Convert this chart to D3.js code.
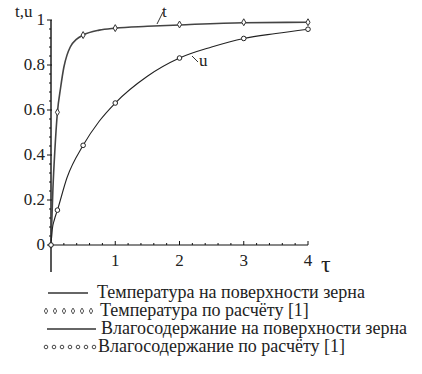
<!DOCTYPE html>
<html>
<head>
<meta charset="utf-8">
<script src="https://cdn.jsdelivr.net/npm/d3@7"></script>
<style>
  body { margin: 0; background: #fff; }
</style>
</head>
<body>
<svg id="chart" width="422" height="374"></svg>
<script>
// temperature curve (continuous line)
var tauLine  = [0, 0.03, 0.06, 0.1, 0.15, 0.2, 0.25, 0.3, 0.4, 0.5, 0.75, 1, 1.5, 2, 3, 4];
var tLine    = [0, 0.25, 0.42, 0.59, 0.7, 0.79, 0.845, 0.88, 0.915, 0.933, 0.955, 0.964, 0.972, 0.978, 0.988, 0.99];
// moisture curve (continuous line)
var tauLineU = [0, 0.02, 0.05, 0.1, 0.25, 0.5, 0.75, 1, 1.5, 2, 2.5, 3, 3.5, 4];
var uLine    = [0, 0.07, 0.11, 0.155, 0.3, 0.443, 0.55, 0.631, 0.75, 0.831, 0.88, 0.918, 0.94, 0.959];
// calculated points [1]
var tauPts = [0, 0.1, 0.5, 1, 2, 3, 4];
var tPts   = [0, 0.59, 0.933, 0.964, 0.98, 0.99, 0.99];
var uPts   = [0, 0.155, 0.443, 0.631, 0.831, 0.918, 0.959];

var yTicks = [0, 0.2, 0.4, 0.6, 0.8, 1];
var xTicks = [1, 2, 3, 4];
var legendLabels = [
  "Температура на поверхности зерна",
  "Температура по расчёту [1]",
  "Влагосодержание на поверхности зерна",
  "Влагосодержание по расчёту [1]"
];

var FONT = "'Liberation Serif'";
var svg = d3.select("#chart");
var x = d3.scaleLinear().domain([0, 4]).range([51, 308]);
var y = d3.scaleLinear().domain([0, 1]).range([245, 20]);

function label(sel, size) {
  return sel.style("font-family", FONT).attr("font-size", size).attr("fill", "#222");
}

// axes
svg.append("line").attr("x1", x(0)).attr("x2", x(4)).attr("y1", y(0)).attr("y2", y(0))
  .attr("stroke", "#111").attr("stroke-width", 1.2);
svg.append("line").attr("x1", x(0)).attr("x2", x(0)).attr("y1", y(-0.12)).attr("y2", y(1))
  .attr("stroke", "#111").attr("stroke-width", 1.4);

// y ticks
d3.range(0, 1.001, 0.04).forEach(function(v) {
  var major = Math.abs(v * 5 - Math.round(v * 5)) < 1e-6;
  svg.append("line").attr("x1", x(0) - (major ? 4 : 2)).attr("x2", x(0) + (major ? 1 : 0))
    .attr("y1", y(v)).attr("y2", y(v)).attr("stroke", "#111").attr("stroke-width", 1);
});
label(svg.selectAll(".ylab").data(yTicks).enter().append("text"), "17px")
  .attr("x", x(0) - 6).attr("y", function(d) { return y(d) + 5; })
  .attr("text-anchor", "end")
  .text(function(d) { return d; });

// x ticks
d3.range(0.2, 4.001, 0.2).forEach(function(v) {
  var major = Math.abs(v - Math.round(v)) < 1e-6;
  svg.append("line").attr("x1", x(v)).attr("x2", x(v))
    .attr("y1", y(0)).attr("y2", y(0) - (major ? 4 : 2)).attr("stroke", "#111").attr("stroke-width", 1);
});
label(svg.selectAll(".xlab").data(xTicks).enter().append("text"), "17px")
  .attr("x", function(d) { return x(d); }).attr("y", y(0) + 21)
  .attr("text-anchor", "middle")
  .text(function(d) { return d; });

label(svg.append("text"), "17px").attr("x", 15).attr("y", 17).text("t,u");
label(svg.append("text"), "24px").attr("x", 321).attr("y", 272).text("τ");

// curves
var line = d3.line().x(function(d) { return x(d[0]); }).y(function(d) { return y(d[1]); })
  .curve(d3.curveMonotoneX);
svg.append("path").datum(d3.zip(tauLine, tLine)).attr("d", line)
  .attr("fill", "none").attr("stroke", "#444").attr("stroke-width", 1.6);
svg.append("path").datum(d3.zip(tauLineU, uLine)).attr("d", line)
  .attr("fill", "none").attr("stroke", "#222").attr("stroke-width", 1.1);

var diamond = d3.symbol().type(d3.symbolDiamond).size(14);
svg.selectAll(".tpt").data(d3.zip(tauPts, tPts)).enter().append("path")
  .attr("d", diamond)
  .attr("transform", function(d) { return "translate(" + x(d[0]) + "," + y(d[1]) + ")"; })
  .attr("fill", "#fff").attr("stroke", "#333").attr("stroke-width", 1);
svg.selectAll(".upt").data(d3.zip(tauPts, uPts)).enter().append("circle")
  .attr("cx", function(d) { return x(d[0]); }).attr("cy", function(d) { return y(d[1]); })
  .attr("r", 2.3).attr("fill", "#fff").attr("stroke", "#222").attr("stroke-width", 1);

// curve labels
svg.append("line").attr("x1", 157).attr("y1", 24).attr("x2", 163).attr("y2", 12).attr("stroke", "#333");
label(svg.append("text"), "17px").attr("x", 162).attr("y", 17).text("t");
svg.append("line").attr("x1", 192).attr("y1", 56).attr("x2", 198).attr("y2", 62).attr("stroke", "#333");
label(svg.append("text"), "17px").attr("x", 199).attr("y", 66).text("u");

// legend
var rowsY = [293, 311, 329, 347];
var lg = svg.append("g");
lg.append("line").attr("x1", 48).attr("x2", 88).attr("y1", rowsY[0]).attr("y2", rowsY[0]).attr("stroke", "#333").attr("stroke-width", 1.3);
lg.append("line").attr("x1", 47).attr("x2", 96).attr("y1", rowsY[2]).attr("y2", rowsY[2]).attr("stroke", "#333").attr("stroke-width", 1.3);
lg.selectAll(".ld").data(d3.range(6)).enter().append("path")
  .attr("d", d3.symbol().type(d3.symbolDiamond).size(10))
  .attr("transform", function(i) { return "translate(" + (46 + i * 9) + "," + rowsY[1] + ")"; })
  .attr("fill", "#fff").attr("stroke", "#444").attr("stroke-width", 0.9);
lg.selectAll(".lc").data(d3.range(7)).enter().append("circle")
  .attr("cx", function(i) { return 46 + i * 8; }).attr("cy", rowsY[3])
  .attr("r", 1.8).attr("fill", "#fff").attr("stroke", "#333").attr("stroke-width", 0.9);
var textX = [97, 100, 101, 98];
label(lg.selectAll(".lt").data(legendLabels).enter().append("text"), "18px")
  .attr("x", function(d, i) { return textX[i]; })
  .attr("y", function(d, i) { return rowsY[i] + 5; })
  .text(function(d) { return d; });
</script>
</body>
</html>
